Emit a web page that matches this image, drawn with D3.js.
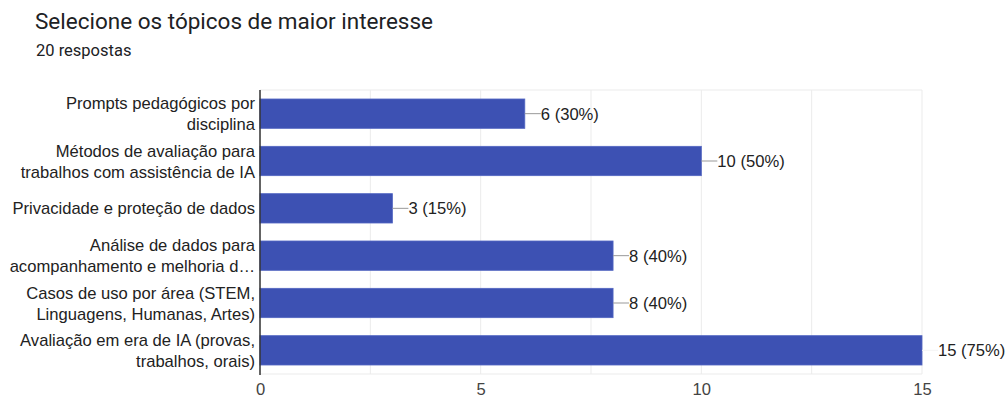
<!DOCTYPE html>
<html><head><meta charset="utf-8">
<script src="https://cdn.jsdelivr.net/npm/d3@7"></script>
<style>
html,body{margin:0;padding:0;background:#fff;}
svg{display:block;}
</style></head>
<body>
<svg id="chart" width="1007" height="398"></svg>
<script>
const title = "Selecione os tópicos de maior interesse";
const subtitle = "20 respostas";
const categories = [
  ["Prompts pedagógicos por", "disciplina"],
  ["Métodos de avaliação para", "trabalhos com assistência de IA"],
  ["Privacidade e proteção de dados"],
  ["Análise de dados para", "acompanhamento e melhoria d…"],
  ["Casos de uso por área (STEM,", "Linguagens, Humanas, Artes)"],
  ["Avaliação em era de IA (provas,", "trabalhos, orais)"]
];
const counts = [6, 10, 3, 8, 8, 15];
const percents = ["30%", "50%", "15%", "40%", "40%", "75%"];
const tickValues = [0, 5, 10, 15];
const gridValues = [0, 2.5, 5, 7.5, 10, 12.5, 15];

(function () {
const svg = d3.select("#chart");
const pL = 260, pR = 922, pT = 90, pB = 374;
const TFONT = "Roboto, 'Noto Sans', sans-serif";
const FONT = "'Liberation Sans', Arial, sans-serif";
const FS = 16.6;

svg.append("text").attr("x", 35).attr("y", 29)
  .attr("font-family", TFONT).attr("font-size", 22.5)
  .attr("fill", "#202124").text(title);
svg.append("text").attr("x", 36).attr("y", 56)
  .attr("font-family", TFONT).attr("font-size", 16.5)
  .attr("fill", "#202124").text(subtitle);

const x = d3.scaleLinear().domain([0, 15]).range([pL, pR]);
const y = d3.scaleBand().domain(d3.range(categories.length)).range([pT, pB])
  .paddingInner(0.38).paddingOuter(0.19);

svg.append("g").selectAll("line").data(gridValues).join("line")
  .attr("x1", d => x(d)).attr("x2", d => x(d)).attr("y1", pT).attr("y2", pB)
  .attr("stroke", "#ebebeb").attr("stroke-width", 1);
svg.append("line").attr("x1", pL).attr("x2", pR).attr("y1", pT).attr("y2", pT)
  .attr("stroke", "#ebebeb");
svg.append("line").attr("x1", pL).attr("x2", pR).attr("y1", pB).attr("y2", pB)
  .attr("stroke", "#ebebeb");

svg.append("g").selectAll("rect").data(counts).join("rect")
  .attr("x", x(0)).attr("y", (d, i) => y(i))
  .attr("width", d => x(d) - x(0)).attr("height", y.bandwidth())
  .attr("fill", "#3d51b3").attr("stroke", "#5366c2").attr("stroke-width", 0.8);

const lab = svg.append("g");
counts.forEach((d, i) => {
  const cy = y(i) + y.bandwidth() / 2;
  lab.append("line").attr("x1", x(d)).attr("x2", x(d) + 16).attr("y1", cy).attr("y2", cy)
    .attr("stroke", x(d) >= pR ? "#f4f4f4" : "#999").attr("stroke-width", 1);
  lab.append("text").attr("x", x(d) + 16).attr("y", cy + 6)
    .attr("font-family", FONT).attr("font-size", FS)
    .attr("fill", "#222").text(`${d} (${percents[i]})`);
});

const cl = svg.append("g");
categories.forEach((lines, i) => {
  const cy = y(i) + y.bandwidth() / 2;
  const lh = 21;
  const start = cy - (lines.length - 1) * lh / 2 + 6;
  lines.forEach((t, j) => {
    cl.append("text").attr("x", 255).attr("y", start + j * lh)
      .attr("text-anchor", "end")
      .attr("font-family", FONT).attr("font-size", FS)
      .attr("fill", "#222").text(t);
  });
});

svg.append("line").attr("x1", pL).attr("x2", pL).attr("y1", pT).attr("y2", pB + 1)
  .attr("stroke", "#333").attr("stroke-width", 1.5);

const xa = svg.append("g").attr("transform", `translate(0,${pB})`)
  .call(d3.axisBottom(x).tickValues(tickValues).tickSize(0));
xa.select(".domain").remove();
xa.selectAll("text").attr("dy", null).attr("y", 20.5).attr("font-family", FONT)
  .attr("font-size", FS).attr("fill", "#444");
})();
</script>
</body></html>
